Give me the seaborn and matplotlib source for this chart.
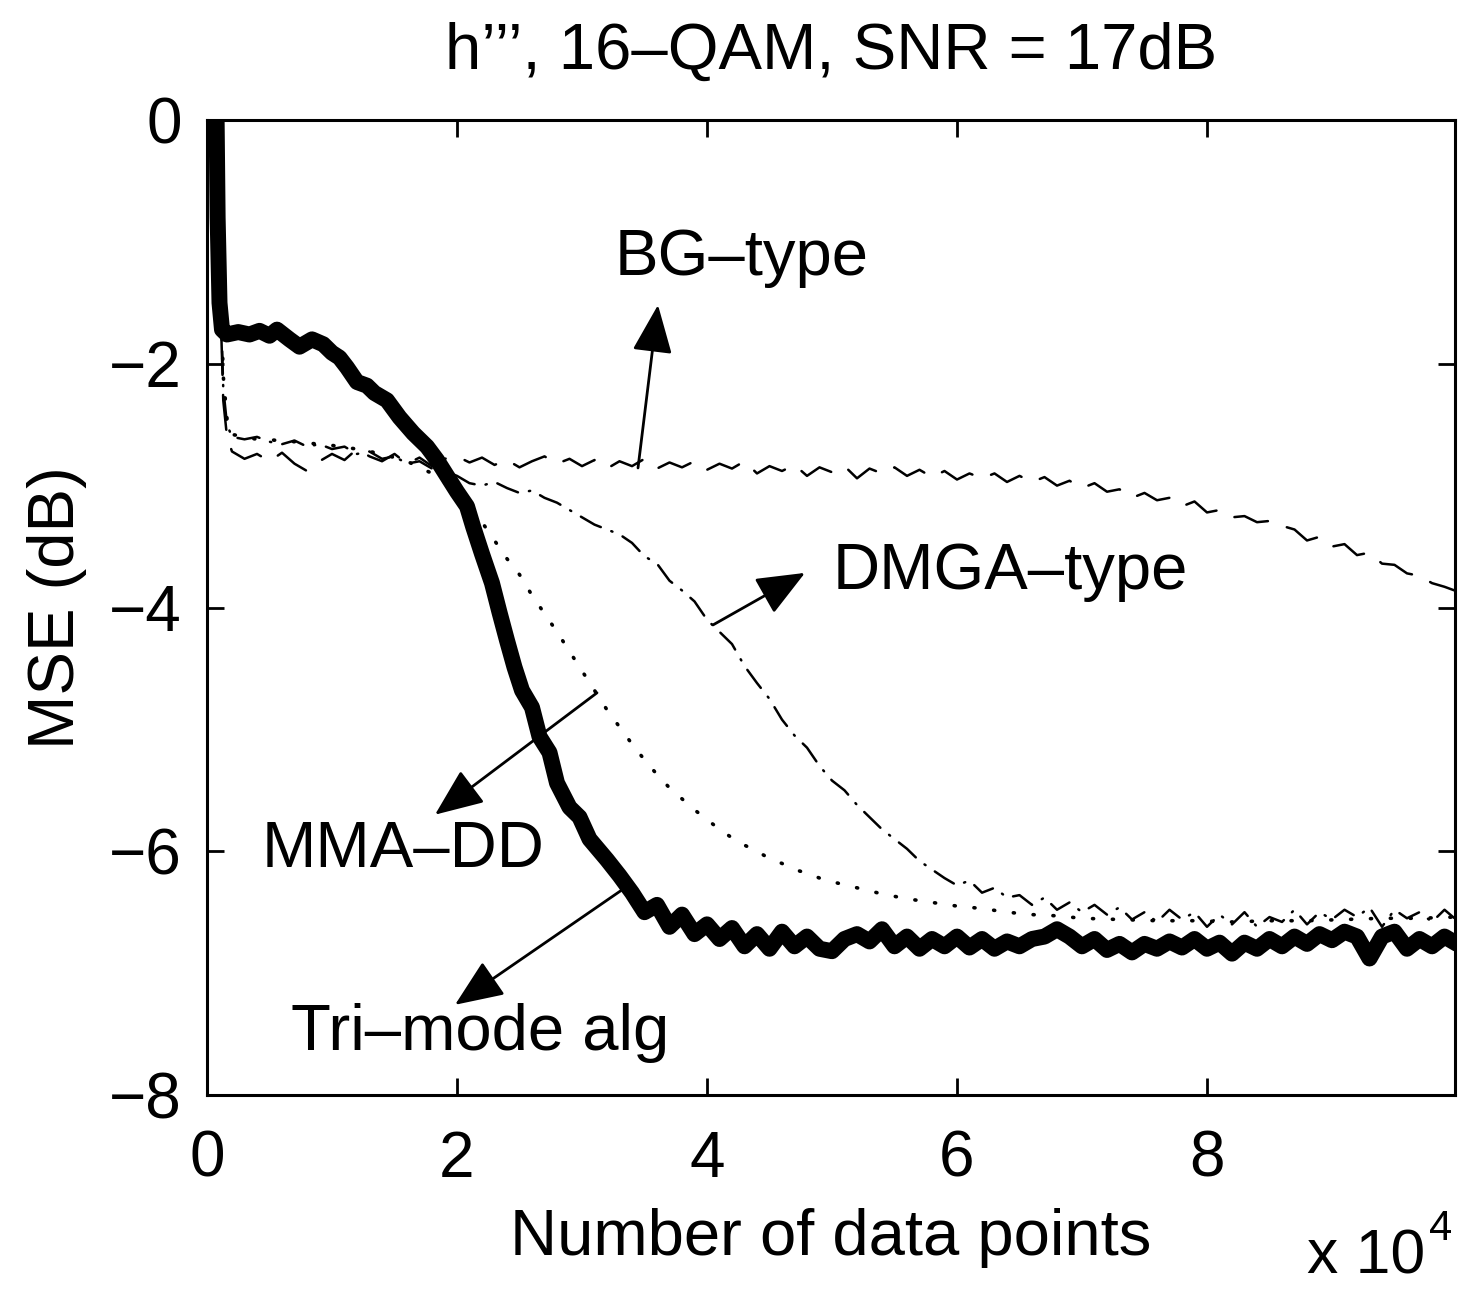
import matplotlib
matplotlib.use("Agg")
import matplotlib.pyplot as plt
import seaborn as sns

# ---- data (x in units of 10^4 data points, y = MSE in dB) ----
tri_x = [0.075, 0.085, 0.10, 0.12, 0.16, 0.25, 0.34, 0.42, 0.50, 0.56, 0.66, 0.74, 0.84, 0.93,
         1.00, 1.06, 1.12, 1.20, 1.28, 1.34, 1.44, 1.54, 1.65, 1.76, 1.84, 1.92, 2.00, 2.08,
         2.13, 2.20, 2.28, 2.34, 2.40, 2.46, 2.52, 2.60, 2.66, 2.74, 2.80, 2.90, 2.98, 3.06,
         3.20, 3.30, 3.40,
         3.5, 3.6, 3.7, 3.8, 3.9, 4.0, 4.1, 4.2, 4.3, 4.4, 4.5, 4.6, 4.7, 4.8, 4.9,
         5.0, 5.1, 5.2, 5.3, 5.4, 5.5, 5.6, 5.7, 5.8, 5.9, 6.0, 6.1, 6.2, 6.3, 6.4,
         6.5, 6.6, 6.7, 6.8, 6.9, 7.0, 7.1, 7.2, 7.3, 7.4, 7.5, 7.6, 7.7, 7.8, 7.9,
         8.0, 8.1, 8.2, 8.3, 8.4, 8.5, 8.6, 8.7, 8.8, 8.9, 9.0, 9.1, 9.2, 9.3, 9.4,
         9.5, 9.6, 9.7, 9.8, 9.9, 10.0]
tri_y = [0.2, -0.8, -1.5, -1.72, -1.76, -1.74, -1.76, -1.73, -1.77, -1.72, -1.80, -1.86, -1.80, -1.84,
         -1.91, -1.95, -2.03, -2.15, -2.18, -2.24, -2.30, -2.44, -2.57, -2.68, -2.79, -2.92, -3.05, -3.17,
         -3.34, -3.56, -3.80, -4.04, -4.27, -4.49, -4.68, -4.82, -5.06, -5.19, -5.44, -5.64, -5.72, -5.90,
         -6.07, -6.20, -6.34,
         -6.50, -6.44, -6.62, -6.52, -6.68, -6.60, -6.72, -6.63, -6.78, -6.68, -6.80, -6.66, -6.78, -6.70, -6.80,
         -6.82, -6.72, -6.68, -6.74, -6.64, -6.78, -6.70, -6.80, -6.72, -6.78, -6.70, -6.79, -6.72, -6.80, -6.74,
         -6.78, -6.72, -6.70, -6.64, -6.70, -6.78, -6.72, -6.81, -6.76, -6.83, -6.76, -6.80, -6.74, -6.79, -6.72,
         -6.80, -6.75, -6.84, -6.75, -6.80, -6.72, -6.78, -6.70, -6.76, -6.68, -6.73, -6.66, -6.70, -6.88, -6.70,
         -6.66, -6.80, -6.72, -6.78, -6.70, -6.76]

bg_x = [0.085, 0.11, 0.13, 0.16, 0.2, 0.3, 0.4, 0.5, 0.6, 0.7, 0.8, 0.9,
        1.0, 1.1, 1.2, 1.3, 1.4, 1.5, 1.6, 1.7, 1.8, 1.9,
        2.0, 2.1, 2.2, 2.3, 2.4, 2.5, 2.6, 2.7, 2.8, 2.9,
        3.0, 3.1, 3.2, 3.3, 3.4, 3.5, 3.6, 3.7, 3.8, 3.9,
        4.0, 4.1, 4.2, 4.3, 4.4, 4.5, 4.6, 4.7, 4.8, 4.9,
        5.0, 5.1, 5.2, 5.3, 5.4, 5.5, 5.6, 5.7, 5.8, 5.9,
        6.0, 6.1, 6.2, 6.3, 6.4, 6.5, 6.6, 6.7, 6.8, 6.9,
        7.0, 7.1, 7.2, 7.3, 7.4, 7.5, 7.6, 7.7, 7.8, 7.9,
        8.0, 8.1, 8.2, 8.3, 8.4, 8.5, 8.6, 8.7, 8.8, 8.9,
        9.0, 9.1, 9.2, 9.3, 9.4, 9.5, 9.6, 9.7, 9.8, 9.9, 9.98]
bg_y = [0.0, -1.6, -2.3, -2.6, -2.72, -2.78, -2.74, -2.80, -2.73, -2.82, -2.88, -2.80,
        -2.74, -2.79, -2.70, -2.76, -2.80, -2.74, -2.82, -2.77, -2.84, -2.78,
        -2.76, -2.81, -2.77, -2.83, -2.79, -2.85, -2.80, -2.76, -2.82, -2.78,
        -2.84, -2.79, -2.86, -2.80, -2.84, -2.78, -2.86, -2.81, -2.85, -2.80,
        -2.87, -2.82, -2.86, -2.80, -2.90, -2.84, -2.88, -2.83, -2.92, -2.85,
        -2.89, -2.84, -2.94, -2.86, -2.90, -2.85, -2.92, -2.87, -2.93, -2.88,
        -2.95, -2.90, -2.94, -2.90, -2.97, -2.92, -2.97, -2.93, -3.00, -2.96,
        -3.02, -2.98, -3.05, -3.03, -3.10, -3.06, -3.12, -3.10, -3.17, -3.13,
        -3.22, -3.20, -3.26, -3.25, -3.30, -3.29, -3.33, -3.36, -3.45, -3.42,
        -3.50, -3.48, -3.57, -3.55, -3.64, -3.65, -3.72, -3.74, -3.80, -3.83, -3.86]

dmga_x = [0.085, 0.11, 0.13, 0.16, 0.2, 0.3, 0.4, 0.5, 0.6, 0.7, 0.8, 0.9,
          1.0, 1.1, 1.2, 1.3, 1.4, 1.5, 1.6, 1.7, 1.8, 1.9,
          2.0, 2.1, 2.2, 2.3, 2.4, 2.5, 2.6, 2.7, 2.8, 2.9,
          3.0, 3.1, 3.2, 3.3, 3.4, 3.5, 3.6, 3.7, 3.8, 3.9,
          4.0, 4.1, 4.2, 4.3, 4.4, 4.5, 4.6, 4.7, 4.8, 4.9,
          5.0, 5.1, 5.2, 5.3, 5.4, 5.5, 5.6, 5.7, 5.8, 5.9,
          6.0, 6.1, 6.2, 6.3, 6.4, 6.5, 6.6, 6.7, 6.8, 6.9,
          7.0, 7.1, 7.2, 7.3, 7.4, 7.5, 7.6, 7.7, 7.8, 7.9,
          8.0, 8.1, 8.2, 8.3, 8.4, 8.5, 8.6, 8.7, 8.8, 8.9,
          9.0, 9.1, 9.2, 9.3, 9.4, 9.5, 9.6, 9.7, 9.8, 9.9, 9.98]
dmga_y = [0.0, -1.5, -2.2, -2.5, -2.60, -2.62, -2.60, -2.64, -2.66, -2.63, -2.68, -2.66,
          -2.70, -2.68, -2.74, -2.72, -2.78, -2.76, -2.82, -2.80, -2.86, -2.88,
          -2.92, -2.98, -3.00, -2.97, -3.02, -3.06, -3.04, -3.10, -3.14, -3.20,
          -3.26, -3.32, -3.36, -3.40, -3.47, -3.58, -3.64, -3.78, -3.86, -3.95,
          -4.10, -4.20, -4.30, -4.48, -4.62, -4.75, -4.92, -5.05, -5.15, -5.30,
          -5.42, -5.50, -5.62, -5.72, -5.82, -5.90, -5.98, -6.08, -6.15, -6.22,
          -6.28, -6.24, -6.34, -6.30, -6.38, -6.36, -6.44, -6.38, -6.48, -6.42,
          -6.50, -6.44, -6.52, -6.46, -6.56, -6.50, -6.58, -6.48, -6.56, -6.50,
          -6.62, -6.52, -6.60, -6.50, -6.62, -6.54, -6.58, -6.48, -6.60, -6.50,
          -6.56, -6.48, -6.54, -6.46, -6.62, -6.48, -6.55, -6.50, -6.58, -6.48, -6.55]

mma_x = [0.085, 0.11, 0.13, 0.16, 0.2, 0.4, 0.6, 0.8, 1.0, 1.2, 1.4, 1.6, 1.8,
         2.0, 2.1, 2.2, 2.3, 2.4, 2.5, 2.6, 2.7, 2.8, 2.9,
         3.0, 3.1, 3.2, 3.3, 3.4, 3.5, 3.6, 3.7, 3.8, 3.9,
         4.0, 4.1, 4.2, 4.3, 4.4, 4.5, 4.6, 4.7, 4.8, 4.9,
         5.0, 5.2, 5.4, 5.6, 5.8, 6.0, 6.2, 6.4, 6.6, 6.8,
         7.0, 7.3, 7.6, 7.9, 8.2, 8.5, 8.8, 9.1, 9.4, 9.7, 9.98]
mma_y = [0.0, -1.4, -2.1, -2.45, -2.58, -2.62, -2.63, -2.65, -2.67, -2.70, -2.74, -2.80, -2.90,
         -3.05, -3.15, -3.30, -3.45, -3.60, -3.73, -3.90, -4.05, -4.20, -4.36,
         -4.52, -4.68, -4.84, -4.98, -5.12, -5.25, -5.37, -5.48, -5.57, -5.66,
         -5.74, -5.82, -5.89, -5.95, -6.00, -6.06, -6.10, -6.15, -6.18, -6.22,
         -6.25, -6.30, -6.35, -6.39, -6.42, -6.45, -6.47, -6.50, -6.52, -6.53,
         -6.55, -6.56, -6.57, -6.57, -6.58, -6.57, -6.57, -6.56, -6.55, -6.55, -6.54]

x_ticks = [0, 2, 4, 6, 8]
y_ticks = [-8, -6, -4, -2, 0]
title_text = "h’’’, 16–QAM, SNR = 17dB"
x_label = "Number of data points"
y_label = "MSE (dB)"
labels = ["BG–type", "DMGA–type", "MMA–DD", "Tri–mode alg"]

# ---- style ----
sns.set_style("ticks", {"xtick.direction": "in", "ytick.direction": "in",
                        "axes.edgecolor": "black", "axes.linewidth": 2.2,
                        "text.color": "black", "axes.labelcolor": "black",
                        "xtick.color": "black", "ytick.color": "black"})
plt.rcParams["font.family"] = ["Liberation Sans", "DejaVu Sans"]
plt.rcParams["text.color"] = "black"
plt.rcParams["axes.labelcolor"] = "black"

W, H = 1467, 1289
fig = plt.figure(figsize=(W / 100, H / 100), dpi=100)
ax = fig.add_axes([207 / W, 1 - 1095 / H, (1455 - 207) / W, (1095 - 120) / H])

thin = 1.8
sns.lineplot(x=bg_x, y=bg_y, ax=ax, color="black", lw=thin, estimator=None, sort=False)
sns.lineplot(x=dmga_x, y=dmga_y, ax=ax, color="black", lw=thin, estimator=None, sort=False)
sns.lineplot(x=mma_x, y=mma_y, ax=ax, color="black", lw=2.6, estimator=None, sort=False)
sns.lineplot(x=tri_x, y=tri_y, ax=ax, color="black", lw=11.5, estimator=None, sort=False)

lines = ax.get_lines()
lines[0].set_linestyle((0, (14, 8)))
lines[1].set_linestyle((0, (9, 4.5, 0.5, 4.5)))
lines[2].set_linestyle((0, (0.3, 5.2)))
for ln in lines[:3]:
    ln.set_dash_capstyle("round")
    ln.set_solid_joinstyle("round")
lines[3].set_solid_joinstyle("round")
lines[3].set_solid_capstyle("round")
lines[3].set_zorder(5)

ax.set_xlim(0, 9.984)
ax.set_ylim(-8, 0)
ax.set_xticks(x_ticks)
ax.set_xticklabels([str(t) for t in x_ticks])
ax.set_yticks(y_ticks)
ax.tick_params(direction="in", length=12, width=2, top=True, right=True,
               labelsize=46, pad=25, colors="black")
ax.tick_params(axis="y", pad=18)
for s in ax.spines.values():
    s.set_visible(True)
    s.set_linewidth(2.2)
    s.set_color("black")

ax.set_title(title_text, fontsize=47, pad=37, color="black")
ax.set_xlabel(x_label, fontsize=47, labelpad=13, color="black")
ax.set_ylabel(y_label, fontsize=47, labelpad=16, color="black")

fig.text(1425 / W, 1 - 1286 / H, "x 10", fontsize=45, ha="right", va="bottom", color="black")
fig.text(1429 / W, 1 - 1240 / H, "4", fontsize=30, ha="left", va="baseline", color="black")

# ---- annotations ----
aprops = dict(arrowstyle="-|>,head_length=0.6,head_width=0.25", color="black",
              lw=2, mutation_scale=50, shrinkA=0, shrinkB=0)
ax.annotate("", xy=(3.608, -1.518), xytext=(3.448, -2.855), arrowprops=aprops, zorder=6)
ax.text(4.28, -1.13, labels[0], fontsize=47, ha="center", va="center", color="black")
ax.annotate("", xy=(4.784, -3.716), xytext=(4.048, -4.143), arrowprops=aprops, zorder=6)
ax.text(5.008, -3.708, labels[1], fontsize=47, ha="left", va="center", color="black")
ax.annotate("", xy=(1.824, -5.70), xytext=(3.12, -4.70), arrowprops=aprops, zorder=6)
ax.text(1.568, -5.99, labels[2], fontsize=47, ha="center", va="center", color="black")
ax.annotate("", xy=(1.984, -7.26), xytext=(3.344, -6.30), arrowprops=aprops, zorder=6)
ax.text(2.184, -7.49, labels[3], fontsize=47, ha="center", va="center", color="black")

fig.savefig("out.png", dpi=100)
